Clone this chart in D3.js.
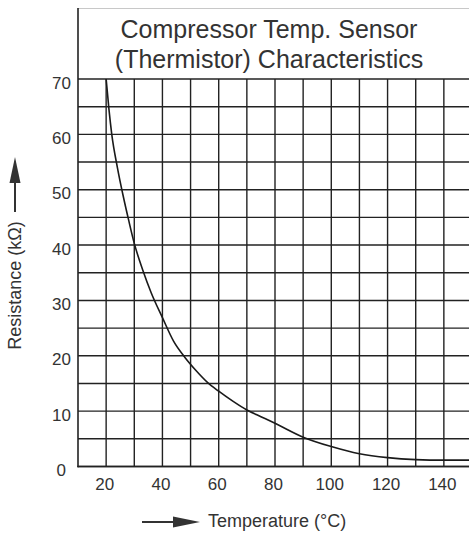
<!DOCTYPE html>
<html>
<head>
<meta charset="utf-8">
<script src="https://cdn.jsdelivr.net/npm/d3@7"></script>
<style>
    body { margin: 0; background: #fff; }
    svg { display: block; }
    text { font-family: "Liberation Sans", Arial, Helvetica, sans-serif; fill: #333; }
</style>
</head>
<body>
<script>
// resistance curve
const temps = [20, 21, 22, 24, 26, 28, 30, 33, 36, 40, 44, 48, 52, 56, 60, 65, 70, 75, 80, 90, 100, 110, 120, 130, 140, 149];
const resist = [70, 64.5, 60, 54, 49, 44.5, 40.3, 35.5, 31.4, 26.9, 22.6, 19.7, 17.3, 15.2, 13.6, 11.8, 10.2, 9.0, 7.8, 5.3, 3.6, 2.3, 1.6, 1.25, 1.15, 1.15];

const xTicks = [20, 40, 60, 80, 100, 120, 140];
const yTicks = [0, 10, 20, 30, 40, 50, 60, 70];
const xGrid = [20, 30, 40, 50, 60, 70, 80, 90, 100, 110, 120, 130, 140, 150];
const yGrid = [0, 5, 10, 15, 20, 25, 30, 35, 40, 45, 50, 55, 60, 65, 70];

const titleLines = ["Compressor Temp. Sensor", "(Thermistor) Characteristics"];

const WIDTH = 469;
const HEIGHT = 535;

const x = d3.scaleLinear().domain([10, 150]).range([78, 472]);
const y = d3.scaleLinear().domain([0, 70]).range([466.5, 79]);

const svg = d3.select("body").append("svg")
    .attr("width", WIDTH)
    .attr("height", HEIGHT);

// light frame line on top
svg.append("line")
    .attr("x1", x(10)).attr("x2", WIDTH)
    .attr("y1", 8.5).attr("y2", 8.5)
    .attr("stroke", "#c8c8c8")
    .attr("stroke-width", 1);

// grid
svg.append("g")
    .selectAll("line")
    .data(yGrid)
    .enter()
    .append("line")
    .attr("x1", x(10)).attr("x2", x(150))
    .attr("y1", d => y(d)).attr("y2", d => y(d))
    .attr("stroke", "#222")
    .attr("stroke-width", 1.4);

svg.append("g")
    .selectAll("line")
    .data(xGrid)
    .enter()
    .append("line")
    .attr("x1", d => x(d)).attr("x2", d => x(d))
    .attr("y1", y(0)).attr("y2", y(70))
    .attr("stroke", "#222")
    .attr("stroke-width", 1.4);

// axis lines
svg.append("line")
    .attr("x1", x(10)).attr("x2", x(10))
    .attr("y1", 8).attr("y2", y(0) + 0.8)
    .attr("stroke", "#222")
    .attr("stroke-width", 1.6);
svg.append("line")
    .attr("x1", x(10) - 0.8).attr("x2", WIDTH)
    .attr("y1", y(0)).attr("y2", y(0))
    .attr("stroke", "#222")
    .attr("stroke-width", 1.6);

// tick labels
const yAxis = svg.append("g")
    .attr("transform", `translate(${x(10)},0)`)
    .call(d3.axisLeft(y).tickValues(yTicks).tickSize(0).tickPadding(7));
yAxis.select(".domain").remove();
yAxis.selectAll("text")
    .style("font-size", "17px")
    .attr("dy", "0.53em")
    .attr("dx", d => d === 0 ? -5 : 0);

const xAxis = svg.append("g")
    .attr("transform", `translate(0,${y(0)})`)
    .call(d3.axisBottom(x).tickValues(xTicks).tickSize(0).tickPadding(11));
xAxis.select(".domain").remove();
xAxis.selectAll("text")
    .style("font-size", "17px")
    .attr("dx", -2);

// curve
const line = d3.line()
    .x((d, i) => x(temps[i]))
    .y(d => y(d))
    .curve(d3.curveMonotoneX);

svg.append("path")
    .datum(resist)
    .attr("d", line)
    .attr("fill", "none")
    .attr("stroke", "#1a1a1a")
    .attr("stroke-width", 1.6);

// title
svg.append("g")
    .selectAll("text")
    .data(titleLines)
    .enter()
    .append("text")
    .attr("x", 269)
    .attr("y", (d, i) => 38 + i * 30)
    .attr("text-anchor", "middle")
    .style("font-size", "25px")
    .text(d => d);

// y axis title with arrow
svg.append("text")
    .attr("transform", "translate(21,285.5) rotate(-90)")
    .attr("text-anchor", "middle")
    .style("font-size", "18px")
    .text("Resistance (kΩ)");
svg.append("line")
    .attr("x1", 15).attr("x2", 15)
    .attr("y1", 212).attr("y2", 180)
    .attr("stroke", "#333")
    .attr("stroke-width", 2);
svg.append("path")
    .attr("d", "M15,157 L20.5,183 L9.5,183 Z")
    .attr("fill", "#333");

// x axis title with arrow
svg.append("text")
    .attr("x", 208)
    .attr("y", 527)
    .style("font-size", "18px")
    .text("Temperature (°C)");
svg.append("line")
    .attr("x1", 142).attr("x2", 175)
    .attr("y1", 522).attr("y2", 522)
    .attr("stroke", "#333")
    .attr("stroke-width", 2);
svg.append("path")
    .attr("d", "M200,522 L173,516.5 L173,527.5 Z")
    .attr("fill", "#333");
</script>
</body>
</html>
